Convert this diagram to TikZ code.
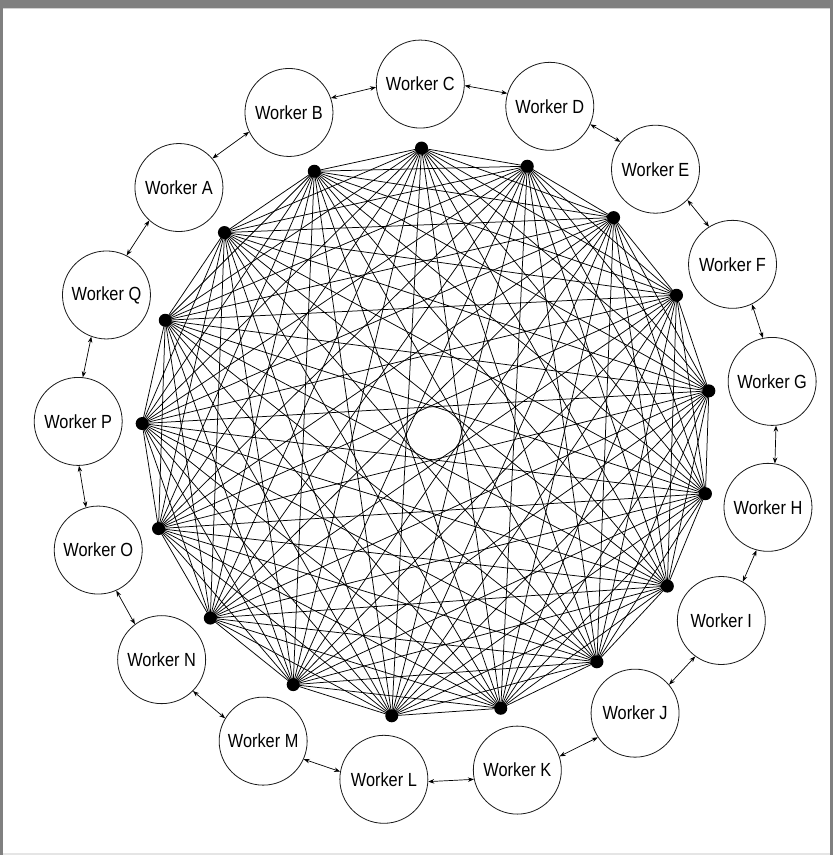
\documentclass[tikz,border=0pt]{standalone}
\usepackage{fontspec}
\setmainfont[FakeStretch=0.86]{Liberation Sans}
\usetikzlibrary{arrows.meta}

\def\ring{C/91.1,D/69.4,E/49.1,F/28.9,G/8.5,H/-12.3,I/-32.5,J/-53.4,K/-75,L/-97.1,
  M/-118,N/-139.5,O/-160.4,P/178.1,Q/156.7,A/135.3,B/113.3}

\begin{document}
\begin{tikzpicture}[x=1pt,y=1pt,
  worker/.style={circle,draw=black!90,line width=.8pt,minimum size=88pt,inner sep=0pt,
    font=\fontsize{19}{19}\selectfont},
  hub/.style={circle,fill=black,minimum size=13pt,inner sep=0pt},
  link/.style={{Stealth[length=6pt,width=4.5pt]}-{Stealth[length=6pt,width=4.5pt]},line width=.7pt}]
  \useasboundingbox (0,0) rectangle (833,855);
  % frame
  \fill[gray] (0,847) rectangle (833,855);
  \fill[gray] (0,0) rectangle (3,855);
  \fill[gray] (830,0) rectangle (833,855);
  \fill[gray!20] (3,0) rectangle (830,2);
  \draw[gray!35,line width=1pt] (3,846.5) -- (830,846.5);
  \coordinate (c) at (427,422);
  \foreach \n/\a [count=\i from 0] in \ring {
    \coordinate (d\i) at ([shift={(\a:285)}]c);
    \node[worker] (w\n) at ([shift={(\a:349)}]c) {Worker \n};
  }
  % every hub to every other hub
  \foreach \i in {0,...,15}{
    \pgfmathtruncatemacro\k{\i+1}
    \foreach \j in {\k,...,16} \draw[line width=.75pt] (d\i) -- (d\j);
  }
  \foreach \i in {0,...,16} \node[hub] (h\i) at (d\i) {};
  % neighbours on the outer ring
  \foreach \n/\a [remember=\n as \m (initially B),remember=\a as \b (initially 113.3)] in \ring {
    \pgfmathsetmacro\p{\b-93.6}
    \pgfmathsetmacro\q{\a+93.6}
    \draw[link] (w\m.\p) -- (w\n.\q);
  }
\end{tikzpicture}
\end{document}
